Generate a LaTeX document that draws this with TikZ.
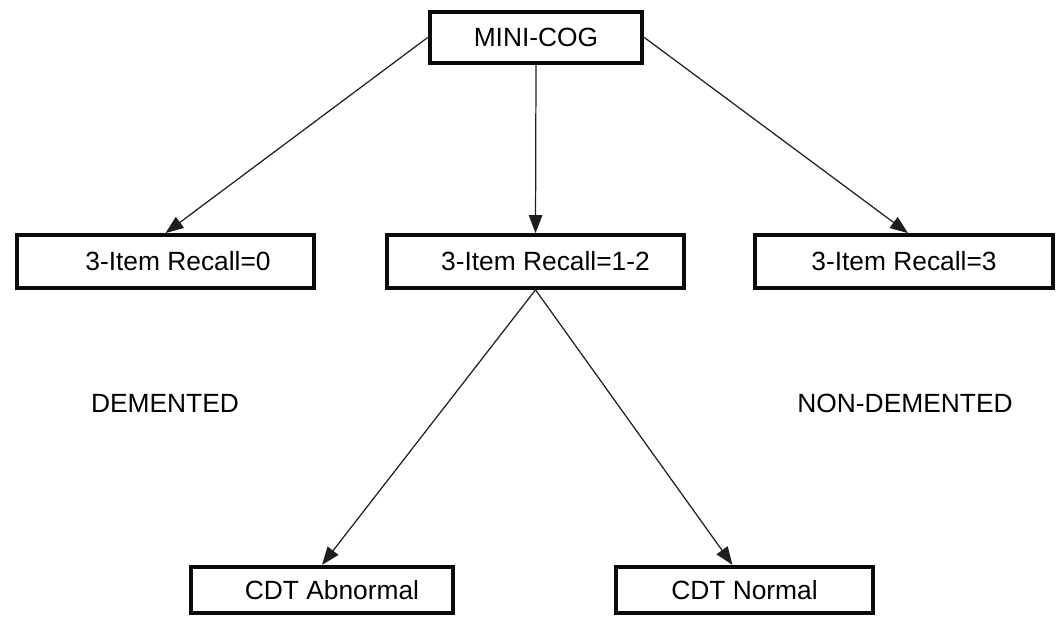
\documentclass[tikz,border=0pt]{standalone}
\usepackage{fontspec}
\setmainfont{Liberation Sans}
\usetikzlibrary{arrows.meta}
\usepackage{xcolor}
\definecolor{boxbord}{RGB}{10,10,10}
\definecolor{linkcol}{RGB}{30,30,30}

\begin{document}
\begin{tikzpicture}[
  x=0.02cm, y=-0.02cm,
  font=\fontsize{15}{18}\selectfont,
  stepbox/.style={
    draw=boxbord, fill=white, line width=2.4pt,
    rectangle, inner sep=2pt
  },
  recallbox/.style={stepbox, minimum width=5.95cm, minimum height=1.05cm},
  cdtbox/.style={stepbox, minimum height=0.92cm},
  link/.style={
    -{Triangle[length=3.6mm,width=2.7mm]},
    color=linkcol, line width=0.7pt
  }
]
\useasboundingbox (0,0) rectangle (1057,617);

%% ── Top box ──────────────────────────────────────────────────────────────────
\node[stepbox, minimum width=4.25cm, minimum height=1.02cm] (mini) at (536,37.5) {MINI-COG};

%% ── Recall boxes ─────────────────────────────────────────────────────────────
\node[recallbox] (rec0)  at (165.5,261.5) {\hspace{0.5cm}3-Item Recall=0};
\node[recallbox] (rec12) at (535.5,261.5) {\hspace{0.4cm}3-Item Recall=1-2};
\node[recallbox] (rec3)  at (904,261.5)   {3-Item Recall=3};

%% ── Outcome labels ───────────────────────────────────────────────────────────
\node (dem)    at (165,403) {DEMENTED};
\node (nondem) at (905,403) {NON-DEMENTED};

%% ── Clock drawing test ───────────────────────────────────────────────────────
\node[cdtbox, minimum width=5.25cm] (cdtab) at (322,590)   {\hspace{0.4cm}CDT Abnormal};
\node[cdtbox, minimum width=5.15cm] (cdtno) at (744.5,590) {CDT Normal};

%% ── Arrows ───────────────────────────────────────────────────────────────────
\draw[link] (mini.west)   -- (rec0.north);
\draw[link] (mini.south)  -- (rec12.north);
\draw[link] (mini.east)   -- ([xshift=0.08cm]rec3.north);
\draw[link] (rec12.south) -- (cdtab.north);
\draw[link] (rec12.south) -- ([xshift=-0.24cm]cdtno.north);

\end{tikzpicture}
\end{document}
